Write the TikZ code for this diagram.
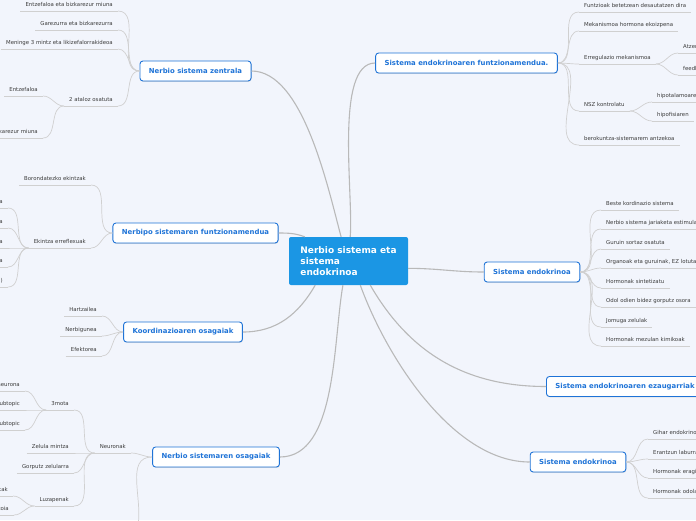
\documentclass[tikz,border=0pt]{standalone}
\usepackage{fontspec}
\setmainfont{DejaVu Sans}
\usetikzlibrary{shadows}
\definecolor{mmbg}{RGB}{242,245,252}
\definecolor{mmroot}{RGB}{27,150,228}
\definecolor{mmblue}{RGB}{30,115,215}
\definecolor{mmline}{RGB}{185,185,185}
\definecolor{mmtwig}{RGB}{208,208,208}
\definecolor{mmtext}{RGB}{60,60,60}

\begin{document}
\begin{tikzpicture}[x=1pt, y=-1pt,
    rootbox/.style={rectangle, rounded corners=2pt, fill=mmroot, text=white, align=left,
                    minimum width=119pt, minimum height=48pt,
                    font=\fontsize{9}{11}\selectfont\bfseries},
    topicbox/.style={rectangle, rounded corners=3pt, fill=white, draw=mmblue, line width=0.9pt,
                     text=mmblue, minimum height=20pt, inner xsep=9pt,
                     font=\fontsize{6.9}{8}\selectfont\bfseries,
                     drop shadow={shadow xshift=0.5pt, shadow yshift=-0.8pt, opacity=0.25}},
    leaf/.style={inner xsep=5pt, inner ysep=2.7pt, text height=4pt, text depth=1.3pt,
                 text=mmtext, font=\fontsize{5.4}{6}\selectfont,
                 append after command={(\tikzlastnode.south west) edge[mmtwig, line width=0.7pt] (\tikzlastnode.south east)}},
    lleaf/.style={leaf, anchor=south east},
    rleaf/.style={leaf, anchor=south west},
    branch/.style={draw=mmline, line width=1.1pt},
    twigl/.style={draw=mmtwig, line width=0.7pt, out=180, in=0},
    twigr/.style={draw=mmtwig, line width=0.7pt, out=0, in=180}
  ]
    \useasboundingbox (0,0) rectangle (696,520);
    \fill[mmbg] (0,0) rectangle (696,520);
    \clip (0,0) rectangle (696,520);

    % centre and main topics
    \node[rootbox] (cen) at (348.5,261) {Nerbio sistema eta\\sistema\\endokrinoa};

    \node[topicbox] (zen) at (195.5,71) {Nerbio sistema zentrala};
    \node[topicbox] (fun) at (195.5,233) {Nerbipo sistemaren funtzionamendua};
    \node[topicbox] (koo) at (183,332) {Koordinazioaren osagaiak};
    \node[topicbox] (osa) at (216,457) {Nerbio sistemaren osagaiak};
    \node[topicbox] (efun) at (466.5,63) {Sistema endokrinoaren funtzionamendua.};
    \node[topicbox] (endo) at (532,272) {Sistema endokrinoa};
    \node[topicbox, anchor=west] (ezau) at (546,386.5) {Sistema endokrinoaren ezaugarriak};
    \node[topicbox] (endob) at (578,462) {Sistema endokrinoa};

    \draw[branch] (cen.107) to[out=105, in=0, looseness=0.7] (zen.east);
    \draw[branch] (cen.151) to[out=160, in=0] (fun.east);
    \draw[branch] (cen.216) to[out=240, in=0] (koo.east);
    \draw[branch] (cen.257) to[out=260, in=0, looseness=0.8] (osa.east);
    \draw[branch] (cen.86) to[out=85, in=180, looseness=0.6] (efun.west);
    \draw[branch] (cen.353) to[out=0, in=180] (endo.west);
    \draw[branch] (cen.312) to[out=300, in=180] (ezau.west);
    \draw[branch] (cen.296) to[out=290, in=180, looseness=0.8] (endob.west);

    % Nerbio sistema zentrala
    \node[lleaf] (z1) at (118,11) {Entzefaloa eta bizkarezur miuna};
    \node[lleaf] (z2) at (118,30) {Garezurra eta bizkarezurra};
    \node[lleaf] (z3) at (118,49) {Meninge 3 mintz eta likizefalorrakideoa};
    \node[lleaf] (z4) at (118,106) {2 ataloz osatuta};
    \node[lleaf] (z41) at (43,96) {Entzefaloa};
    \node[lleaf] (z42) at (43,138) {Bizkarezur miuna};
    \path (zen.west) edge[twigl] (z1.south east) edge[twigl] (z2.south east)
                     edge[twigl] (z3.south east) edge[twigl] (z4.south east);
    \path (z4.south west) edge[twigl] (z41.south east) edge[twigl] (z42.south east);

    % Nerbipo sistemaren funtzionamendua
    \node[lleaf] (f1) at (91,185) {Borondatezko ekintzak};
    \node[lleaf] (f2) at (91,248) {Ekintza erreflexuak};
    \node[lleaf] (f21) at (8,208) {a};
    \node[lleaf] (f22) at (8,228) {a};
    \node[lleaf] (f23) at (8,248) {a};
    \node[lleaf] (f24) at (8,267) {a};
    \node[lleaf] (f25) at (8,287) {)};
    \path (fun.west) edge[twigl] (f1.south east) edge[twigl] (f2.south east);
    \path (f2.south west) edge[twigl] (f21.south east) edge[twigl] (f22.south east)
                          edge[twigl] (f23.south east) edge[twigl] (f24.south east)
                          edge[twigl] (f25.south east);

    % Koordinazioaren osagaiak
    \node[lleaf] (k1) at (102,316) {Hartzailea};
    \node[lleaf] (k2) at (102,336) {Nerbigunea};
    \node[lleaf] (k3) at (102,356) {Efektorea};
    \path (koo.west) edge[twigl] (k1.south east) edge[twigl] (k2.south east)
                     edge[twigl] (k3.south east);

    % Nerbio sistemaren osagaiak
    \node[lleaf] (o1) at (131,453) {Neuronak};
    \node[lleaf] (o11) at (74,410) {3mota};
    \node[lleaf] (o111) at (25,391) {neurona};
    \node[lleaf] (o112) at (25,410) {Subtopic};
    \node[lleaf] (o113) at (25,430) {Subtopic};
    \node[lleaf] (o12) at (74,453) {Zelula mintza};
    \node[lleaf] (o13) at (74,473) {Gorputz zelularra};
    \node[lleaf] (o14) at (74,506) {Luzapenak};
    \node[lleaf] (o141) at (13,496) {Dendritak};
    \node[lleaf] (o142) at (14,515) {Axoia};
    \coordinate (osadown) at (138,525);
    \path (osa.west) edge[twigl] (o1.south east) edge[draw=mmtwig, line width=0.7pt, out=180, in=80] (osadown);
    \path (o1.south west) edge[twigl] (o11.south east) edge[twigl] (o12.south east)
                          edge[twigl] (o13.south east) edge[twigl] (o14.south east);
    \path (o11.south west) edge[twigl] (o111.south east) edge[twigl] (o112.south east)
                           edge[twigl] (o113.south east);
    \path (o14.south west) edge[twigl] (o141.south east) edge[twigl] (o142.south east);

    % Sistema endokrinoaren funtzionamendua
    \node[rleaf] (e1) at (579,12) {Funtzioak betetzean desautatzen dira};
    \node[rleaf] (e2) at (579,31) {Mekanismoa hormona ekoizpena};
    \node[rleaf] (e3) at (579,64) {Erregulazio mekanismoa};
    \node[rleaf] (e31) at (678,53) {Atzera};
    \node[rleaf] (e32) at (678,75) {feedback};
    \node[rleaf] (e4) at (579,111) {NSZ kontrolatu};
    \node[rleaf] (e41) at (652,102) {hipotalamoaren};
    \node[rleaf] (e42) at (652,121) {hipofisiaren};
    \node[rleaf] (e5) at (579,145) {berokuntza-sistemarem antzekoa};
    \path (efun.east) edge[twigr] (e1.south west) edge[twigr] (e2.south west)
                      edge[twigr] (e3.south west) edge[twigr] (e4.south west)
                      edge[twigr] (e5.south west);
    \path (e3.south east) edge[twigr] (e31.south west) edge[twigr] (e32.south west);
    \path (e4.south east) edge[twigr] (e41.south west) edge[twigr] (e42.south west);

    % Sistema endokrinoa
    \node[rleaf] (s1) at (601,210) {Beste kordinazio sistema};
    \node[rleaf] (s2) at (601,229) {Nerbio sistema jariaketa estimulatu};
    \node[rleaf] (s3) at (601,249) {Guruin sortaz osatuta};
    \node[rleaf] (s4) at (601,268) {Organoak eta guruinak, EZ lotuta};
    \node[rleaf] (s5) at (601,288) {Hormonak sintetizatu};
    \node[rleaf] (s6) at (601,307) {Odol odien bidez gorputz osora};
    \node[rleaf] (s7) at (601,327) {Jomuga zelulak};
    \node[rleaf] (s8) at (601,346) {Hormonak mezulan kimikoak};
    \path (endo.east) edge[twigr] (s1.south west) edge[twigr] (s2.south west)
                      edge[twigr] (s3.south west) edge[twigr] (s4.south west)
                      edge[twigr] (s5.south west) edge[twigr] (s6.south west)
                      edge[twigr] (s7.south west) edge[twigr] (s8.south west);

    % Sistema endokrinoa (bigarrena)
    \node[rleaf] (b1) at (648,439) {Gihar endokrinoak};
    \node[rleaf] (b2) at (648,459) {Erantzun laburrak};
    \node[rleaf] (b3) at (648,478) {Hormonak eragin};
    \node[rleaf] (b4) at (648,498) {Hormonak odolaren};
    \path (endob.east) edge[twigr] (b1.south west) edge[twigr] (b2.south west)
                       edge[twigr] (b3.south west) edge[twigr] (b4.south west);
  \end{tikzpicture}
\end{document}
